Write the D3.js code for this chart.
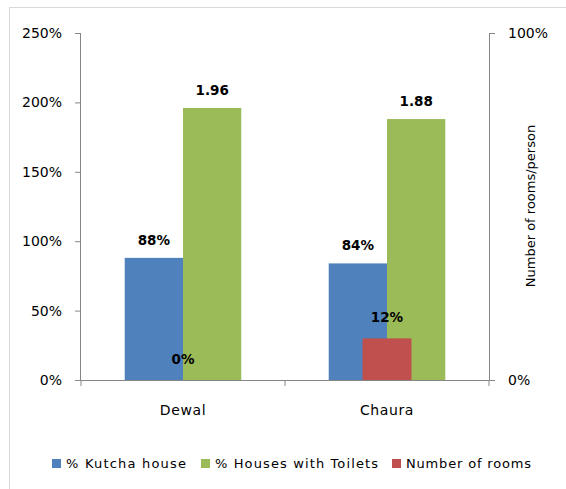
<!DOCTYPE html>
<html><head><meta charset="utf-8">
<script src="https://cdn.jsdelivr.net/npm/d3@7"></script>
<style>body{margin:0;background:#fff}svg{display:block}text{font-family:"DejaVu Sans",Verdana,sans-serif}</style>
</head><body>
<svg id="c" width="566" height="489"></svg>
<script>
const categories = ["Dewal", "Chaura"];
const kutcha = [0.88, 0.84];          // % Kutcha house (left axis)
const toilets = [1.96, 1.88];         // % Houses with Toilets (left axis, shown as number)
const rooms = [0.00, 0.12];           // Number of rooms (right axis)
const leftTicks = [0, 0.5, 1, 1.5, 2, 2.5];
const rightTicks = [0, 1];
const seriesNames = ["% Kutcha house", "% Houses with Toilets", "Number of rooms"];
const colors = ["#4F81BD", "#9BBB59", "#C0504D"];

const svg = d3.select("#c");
const L = 81, R = 489, T = 33, B = 380;
const axisColor = "#868686";

svg.append("rect").attr("x", 9.5).attr("y", 7.5).attr("width", 570).attr("height", 490)
  .attr("fill", "none").attr("stroke", "#d9d9d9");

const x = d3.scaleBand().domain(categories).range([L, R]).paddingInner(0).paddingOuter(0);
const yL = d3.scaleLinear().domain([0, 2.5]).range([B, T]);
const yR = d3.scaleLinear().domain([0, 1]).range([B, T]);
const bw = x.bandwidth();
const barW = bw / 3.5;
const redW = bw * 0.24;

const fmtPct = d3.format(".0%");

// bars
categories.forEach((c, i) => {
  const cx = x(c) + bw / 2;
  svg.append("rect").attr("x", cx - barW).attr("width", barW)
    .attr("y", yL(kutcha[i])).attr("height", B - yL(kutcha[i])).attr("fill", colors[0]);
  svg.append("rect").attr("x", cx).attr("width", barW)
    .attr("y", yL(toilets[i])).attr("height", B - yL(toilets[i])).attr("fill", colors[1]);
  svg.append("rect").attr("x", cx - redW / 2).attr("width", redW)
    .attr("y", yR(rooms[i])).attr("height", B - yR(rooms[i])).attr("fill", colors[2]);
  const lab = (tx, ty, t) => svg.append("text").attr("x", tx).attr("y", ty)
    .attr("text-anchor", "middle").attr("font-size", 13.5).attr("font-weight", "bold")
    .attr("fill", "#000").text(t);
  lab(cx - barW / 2, yL(kutcha[i]) - 13, fmtPct(kutcha[i]));
  lab(cx + barW / 2, yL(toilets[i]) - 13, toilets[i].toFixed(2));
  lab(cx, yR(rooms[i]) - 16, fmtPct(rooms[i]));
});

// left axis
const gL = svg.append("g").attr("transform", `translate(${L},0)`)
  .call(d3.axisLeft(yL).tickValues(leftTicks).tickFormat(fmtPct).tickSize(6).tickPadding(13));
gL.select(".domain").attr("stroke", axisColor).attr("d", `M-0.5,${T}V${B}`);
gL.selectAll(".tick line").attr("stroke", axisColor);
gL.selectAll(".tick text").attr("font-size", 14).attr("fill", "#000").attr("font-family", "DejaVu Sans");

// right axis
const gR = svg.append("g").attr("transform", `translate(${R},0)`)
  .call(d3.axisRight(yR).tickValues(rightTicks).tickFormat(fmtPct).tickSize(6).tickPadding(13));
gR.select(".domain").attr("stroke", axisColor).attr("d", `M0.5,${T}V${B}`);
gR.selectAll(".tick line").attr("stroke", axisColor);
gR.selectAll(".tick text").attr("font-size", 14).attr("fill", "#000").attr("font-family", "DejaVu Sans");

// x axis
svg.append("line").attr("x1", L - 6).attr("x2", R + 6).attr("y1", B + 0.5).attr("y2", B + 0.5).attr("stroke", axisColor);
[L, x("Chaura"), R].forEach(v => svg.append("line").attr("x1", v).attr("x2", v)
  .attr("y1", B).attr("y2", B + 6).attr("stroke", axisColor));
categories.forEach(c => svg.append("text").attr("x", x(c) + bw / 2).attr("y", 415)
  .attr("text-anchor", "middle").attr("font-size", 14).attr("letter-spacing", 0.6).attr("fill", "#000").text(c));

// right axis title
svg.append("text").attr("transform", "translate(535,206) rotate(-90)")
  .attr("text-anchor", "middle").attr("font-size", 13).attr("fill", "#000")
  .attr("font-family", "Liberation Sans, Arial, sans-serif").text("Number of rooms/person");

// legend
const legX = [52, 201, 392], legTW = [120, 163, 125];
seriesNames.forEach((n, i) => {
  svg.append("rect").attr("x", legX[i]).attr("y", 459).attr("width", 9).attr("height", 9).attr("fill", colors[i]);
  svg.append("text").attr("x", legX[i] + 14).attr("y", 468).attr("font-size", 13).attr("fill", "#000")
    .attr("textLength", legTW[i]).attr("lengthAdjust", "spacing").text(n);
});
</script>
</body></html>
